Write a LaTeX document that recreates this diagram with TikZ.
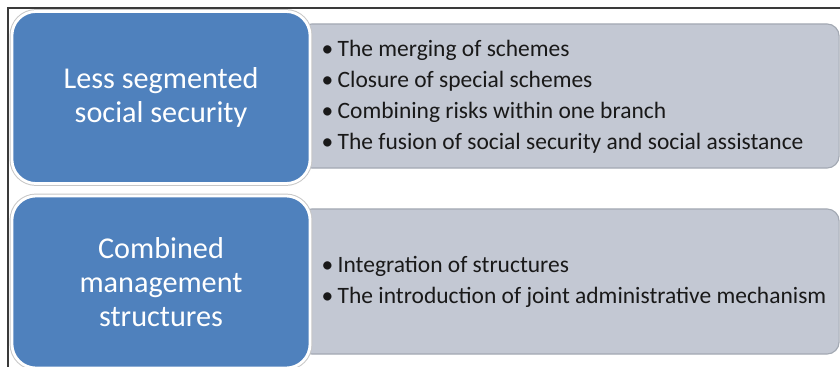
\documentclass[tikz,border=0pt]{standalone}
\usepackage{fontspec}
\setmainfont{Carlito}
\usepackage{xcolor}
\usepackage{tikz}

\definecolor{catblue}{HTML}{4F81BD}
\definecolor{listgray}{HTML}{C3C8D3}
\definecolor{listedge}{HTML}{A3A9B3}
\definecolor{frameline}{HTML}{3A3A3A}

\newcommand{\bul}{\makebox[0.4cm][l]{\textbullet}}

\begin{document}
\begin{tikzpicture}[x=0.025cm,y=-0.025cm,
  catbox/.style={rounded corners=0.6cm, fill=catblue, draw=white, line width=2pt,
    preaction={draw=black!22, line width=3.4pt},
    minimum width=7.45cm, minimum height=4.3cm, align=center, text=white,
    font=\fontsize{21.5}{24}\selectfont},
  listbox/.style={rounded corners=0.3cm, fill=listgray, draw=listedge, line width=0.8pt,
    minimum width=13.475cm},
  items/.style={anchor=west, align=left, inner sep=0pt, text=black!90,
    font=\fontsize{16.7}{22}\selectfont}]
  \useasboundingbox (0,0) rectangle (840,367);

  % Marco
  \draw[frameline, line width=1.4pt] (8,368) -- (8,8) -- (841,8);

  % Cajas grises con las listas
  \node[listbox, minimum height=3.6cm] (segmlist) at (569.5,96) {};
  \node[items] (segmitems) at ([xshift=0.55cm,yshift=-0.02cm]segmlist.west)
    {\bul The merging of schemes\\
     \bul Closure of special schemes\\
     \bul Combining risks within one branch\\
     \bul The fusion of social security and social assistance};
  \node[listbox, minimum height=3.625cm] (mgmtlist) at (569.5,281.5) {};
  \node[items] (mgmtitems) at ([xshift=0.55cm]mgmtlist.west)
    {\bul Integration of structures\\
     \bul The introduction of joint administrative mechanism};

  % Cajas azules encima
  \node[catbox] (segm) at (161,97.5) {Less segmented\\social security};
  \node[catbox] (mgmt) at (161,282) {Combined\\management\\structures};
\end{tikzpicture}
\end{document}
